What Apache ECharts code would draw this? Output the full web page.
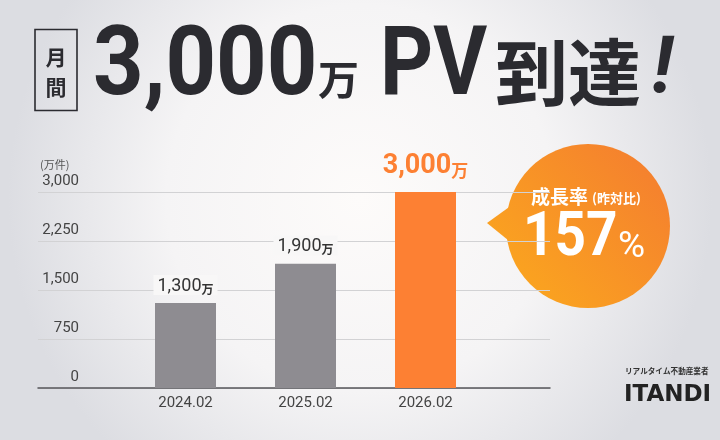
<!DOCTYPE html>
<html><head><meta charset="utf-8">
<script src="https://cdn.jsdelivr.net/npm/echarts@6/dist/echarts.min.js"></script>
<style>html,body{margin:0;padding:0;}#c{width:720px;height:440px;}</style>
</head><body><div id="c"></div>
<script>
const categories = ['2024.02', '2025.02', '2026.02'];
const values = [1300, 1900, 3000];
const barColors = ['#8e8c91', '#8e8c91', '#fd8033'];
const yTicks = { min: 0, max: 3000, interval: 750 };
const growth = '157';

const chart = echarts.init(document.getElementById('c'), null, { renderer: 'canvas' });
const fmt = v => v.toLocaleString('en-US');
const CJK = '"Noto Sans CJK JP", sans-serif';
const DARK = '#2b2b30';

const barData = values.map((v, i) => {
  const last = i === values.length - 1;
  return {
    value: v,
    itemStyle: { color: barColors[i] },
    label: last ? {
      show: true, position: 'top', distance: 12,
      formatter: '{n|' + fmt(v) + '}{u|万}',
      rich: {
        n: { fontSize: 27, fontWeight: 'bold', color: '#fd8033', fontFamily: 'Roboto', verticalAlign: 'bottom', lineHeight: 28 },
        u: { fontSize: 17, fontWeight: 'bold', color: '#fd8033', fontFamily: CJK, verticalAlign: 'bottom', lineHeight: 28, padding: [0, 0, 1, 0] }
      }
    } : {
      show: true, position: 'top', distance: 8,
      backgroundColor: '#f8f7f7', padding: [0, 4, 0, 4],
      formatter: '{n|' + fmt(v) + '}{u|万}',
      rich: {
        n: { fontSize: 18, color: '#333', fontFamily: 'Roboto', verticalAlign: 'bottom', lineHeight: 20 },
        u: { fontSize: 12, fontWeight: 'bold', color: '#333', fontFamily: CJK, verticalAlign: 'bottom', lineHeight: 20 }
      }
    }
  };
});

const bubbleGrad = {
  type: 'linear', x: 510, y: 300, x2: 670, y2: 150, global: true,
  colorStops: [{ offset: 0, color: '#fba71e' }, { offset: 1, color: '#f47c30' }]
};

chart.setOption({
  animation: false,
  grid: [
    { left: 38, top: 192, width: 512, height: 196 },
    { left: 125.5, top: 192, width: 360, height: 196 }
  ],
  xAxis: [
    { gridIndex: 0, type: 'category', data: [''],
      axisLine: { show: true, lineStyle: { color: '#55555a', width: 1.5 } },
      axisTick: { show: false }, axisLabel: { show: false }, splitLine: { show: false } },
    { gridIndex: 1, type: 'category', data: categories,
      axisLine: { show: false }, axisTick: { show: false },
      axisLabel: { fontSize: 15, color: '#444', fontFamily: 'Roboto', margin: 8 } }
  ],
  yAxis: [
    { gridIndex: 0, type: 'value', min: yTicks.min, max: yTicks.max, interval: yTicks.interval,
      name: '(万件)', nameLocation: 'end', nameGap: 22,
      nameTextStyle: { fontSize: 11, color: '#555', fontFamily: CJK, align: 'left', padding: [0, 0, 0, 2] },
      axisLine: { show: false }, axisTick: { show: false },
      splitLine: { lineStyle: { color: '#d2d2d4', width: 1 } },
      axisLabel: { inside: true, align: 'right', margin: 41, verticalAlign: 'bottom', padding: [0, 0, 3, 0],
        fontSize: 15, color: '#444', fontFamily: 'Roboto', formatter: v => fmt(v) } },
    { gridIndex: 1, type: 'value', min: yTicks.min, max: yTicks.max, show: false }
  ],
  series: [{
    type: 'bar', xAxisIndex: 1, yAxisIndex: 1, barWidth: 61, data: barData
  }],
  graphic: [
    { type: 'rect', z: -100, silent: true, shape: { x: 0, y: 0, width: 720, height: 440 },
      style: { fill: { type: 'radial', x: 0.5, y: 0.45, r: 0.8,
        colorStops: [{ offset: 0, color: '#fdfbfa' }, { offset: 0.55, color: '#f5f4f5' }, { offset: 1, color: '#dcdde2' }] } } },
    // title box
    { type: 'rect', shape: { x: 35, y: 29.5, width: 42, height: 81 },
      style: { fill: 'none', stroke: DARK, lineWidth: 1.6 } },
    { type: 'text', x: 56, y: 57, style: { text: '月', fontSize: 21, fontWeight: 'bold', fontFamily: CJK, fill: DARK, align: 'center', verticalAlign: 'middle' } },
    { type: 'text', x: 56, y: 87, style: { text: '間', fontSize: 21, fontWeight: 'bold', fontFamily: CJK, fill: DARK, align: 'center', verticalAlign: 'middle' } },
    { type: 'text', x: 93, y: 70, scaleX: 0.92, style: { text: '3,000', fontSize: 96, fontWeight: 'bold', fontFamily: 'Roboto', fill: DARK, align: 'left', verticalAlign: 'middle' } },
    { type: 'text', x: 318, y: 79, style: { text: '万', fontSize: 41, fontWeight: 'bold', fontFamily: CJK, fill: DARK, align: 'left', verticalAlign: 'middle' } },
    { type: 'text', x: 380, y: 70, scaleX: 0.86, style: { text: 'PV', fontSize: 96, fontWeight: 'bold', fontFamily: 'Roboto', fill: DARK, align: 'left', verticalAlign: 'middle' } },
    { type: 'text', x: 495, y: 72, style: { text: '到達', fontSize: 73, fontWeight: 'bold', fontFamily: CJK, fill: DARK, align: 'left', verticalAlign: 'middle' } },
    { type: 'text', x: 652, y: 72, style: { text: '!', fontSize: 80, fontWeight: 'bold', fontStyle: 'italic', fontFamily: 'Roboto', fill: DARK, align: 'left', verticalAlign: 'middle' } },
    // bubble
    { type: 'polygon', shape: { points: [[487, 223], [530, 192], [530, 258]] }, style: { fill: bubbleGrad } },
    { type: 'circle', shape: { cx: 588, cy: 226, r: 82 }, style: { fill: bubbleGrad } },
    { type: 'text', x: 531, y: 197, style: { text: '成長率', fontSize: 19, fontWeight: 'bold', fontFamily: CJK, fill: '#fff', align: 'left', verticalAlign: 'middle' } },
    { type: 'text', x: 592, y: 198, style: { text: '(昨対比)', fontSize: 13, fontWeight: 'bold', fontFamily: CJK, fill: '#fff', align: 'left', verticalAlign: 'middle' } },
    { type: 'text', x: 523, y: 240, scaleX: 0.9, style: { text: growth, fontSize: 61, fontWeight: 'bold', fontFamily: 'Roboto', fill: '#fff', align: 'left', verticalAlign: 'middle' } },
    { type: 'text', x: 618, y: 248, style: { text: '%', fontSize: 37, fontWeight: 'normal', fontFamily: 'Roboto', fill: '#fff', align: 'left', verticalAlign: 'middle' } },
    // logo
    { type: 'text', x: 625, y: 371, style: { text: 'リアルタイム不動産業者', fontSize: 7.6, fontWeight: 'bold', fontFamily: CJK, fill: '#333', align: 'left', verticalAlign: 'middle' } },
    { type: 'text', x: 624, y: 395, style: { text: 'ITANDI', fontSize: 23, fontWeight: 'bold', fontFamily: 'DejaVu Sans', fill: '#222', align: 'left', verticalAlign: 'middle' } }
  ]
});
</script></body></html>
